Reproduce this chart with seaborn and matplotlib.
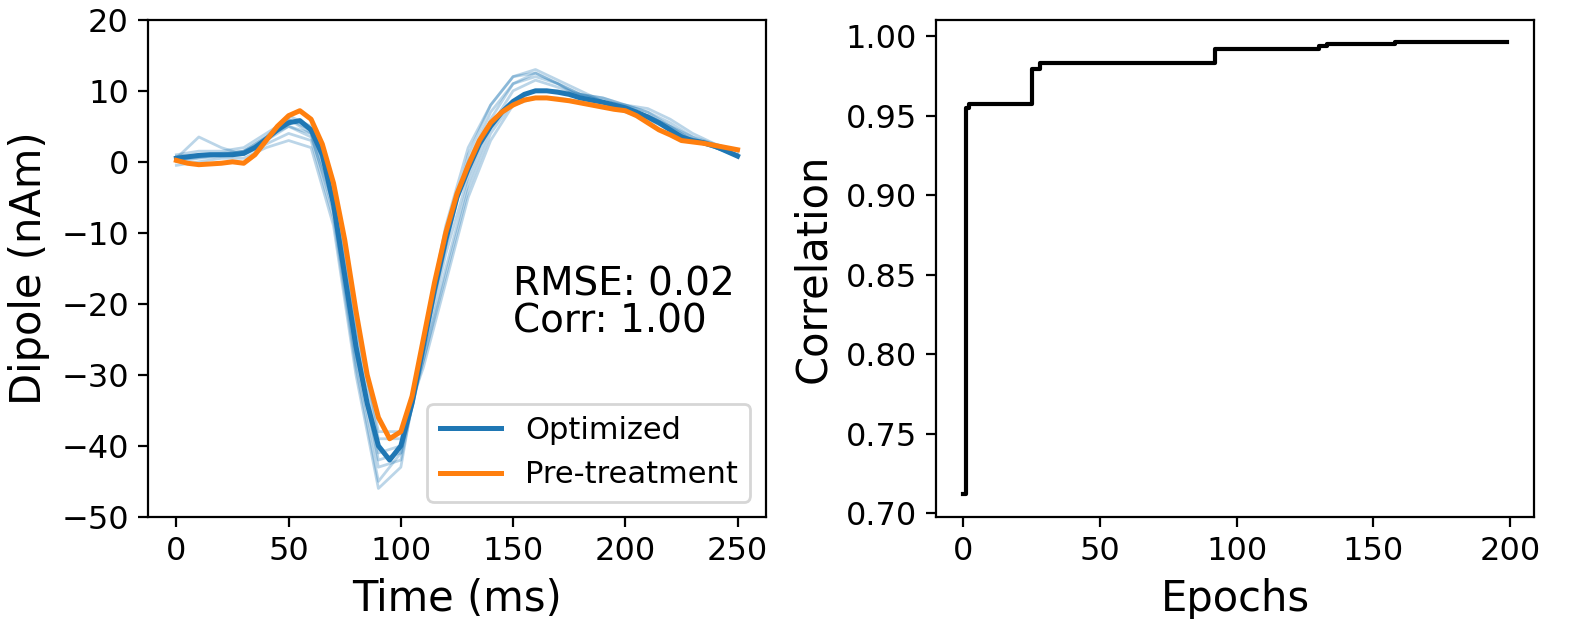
import numpy as np
import pandas as pd
import matplotlib
matplotlib.use('Agg')
import matplotlib.pyplot as plt
import seaborn as sns

# left panel: dipole traces, every 5 ms
time_ms = list(range(0, 255, 5))
optimized = [0.5, 0.7, 0.9, 1.0, 1.0, 1.0, 1.2, 2.0, 3.2, 4.5, 5.5, 5.8, 4.5, 1.0, -6, -16, -26, -34, -40, -42,
             -40, -34, -26, -18, -11, -5, -1, 2.5, 5, 7, 8.5, 9.5, 10, 10, 9.8, 9.5, 9, 8.7, 8.4, 8, 7.6, 7,
             6.3, 5.5, 4.5, 3.5, 3, 2.7, 2.2, 1.5, 0.8]
pretreat = [0.2, -0.2, -0.4, -0.3, -0.2, 0, -0.2, 1, 3, 5, 6.5, 7.2, 6, 2.5, -3, -11, -21, -30, -36, -39,
            -38, -33, -25, -17, -10, -4.5, -0.5, 3, 5.5, 7, 8, 8.7, 9, 9, 8.8, 8.6, 8.3, 8, 7.7, 7.4, 7.2, 6.5,
            5.5, 4.5, 3.8, 3, 2.8, 2.6, 2.3, 2, 1.7]

# individual trials, every 10 ms
trial_time = list(range(0, 260, 10))
trials = [
    [0.5, 3.5, 2, 1, 3, 6, 4, -7, -28, -43, -42, -27, -13, -2, 6, 11, 12.5, 11, 9.5, 9, 8, 7, 5, 3, 2, 1],
    [-0.5, 0, 0.5, 0.5, 2, 3, 2, -9, -30, -46, -43, -25, -9, 2, 8, 12, 13, 11.5, 10, 8.5, 7.5, 6.5, 5, 3.5, 2, 0.8],
    [0.8, 1, 1.2, 1.5, 3.5, 5, 4, -5, -26, -42, -41, -28, -15, -3, 5, 10, 11.5, 10.5, 9.5, 8.5, 7, 6, 4.5, 3, 2, 1],
    [0, 0.5, 0.8, 1, 2.5, 4, 3, -8, -29, -45, -41, -25, -10, 0, 7, 11, 12, 11, 9, 8, 7.5, 6.5, 5, 3, 2, 1],
    [1, 1.5, 1.5, 2, 4, 6, 4.5, -4, -24, -39, -39, -28, -16, -4, 4, 8.5, 10, 10, 9.5, 9, 8, 7, 5.5, 3.5, 2.5, 1.5],
    [0.3, 0.6, 1, 1.5, 3.5, 6.5, 5, -3, -23, -38, -38, -29, -17, -5, 3, 8, 9, 9, 8.5, 8.5, 8, 7.5, 6, 4, 2.5, 1.5],
    [0.5, 1, 1, 1.5, 3, 5, 3.5, -6, -27, -41, -40, -26, -12, 1, 8, 12, 12.5, 11, 9.5, 8.5, 7.5, 6.5, 4.5, 3, 2, 1],
]

# right panel: correlation per epoch (change points of the best-so-far curve)
epoch_steps = [0, 1, 2, 25, 27, 28, 92, 130, 133, 158, 199]
corr_steps = [0.712, 0.955, 0.957, 0.979, 0.979, 0.983, 0.992, 0.994, 0.995, 0.996, 0.996]

plt.rcParams['font.family'] = ['DejaVu Sans']
fig, (ax1, ax2) = plt.subplots(1, 2, figsize=(7.975, 3.095), dpi=200)

for tr in trials:
    sns.lineplot(x=trial_time, y=tr, ax=ax1, color='#1f77b4', alpha=0.3, lw=1.0)
df = pd.DataFrame({'t': time_ms * 2, 'v': optimized + pretreat,
                   'kind': ['Optimized'] * len(time_ms) + ['Pre-treatment'] * len(time_ms)})
sns.lineplot(data=df, x='t', y='v', hue='kind', palette=['#1f77b4', '#ff7f0e'], lw=1.8, ax=ax1)
ax1.set_ylim(-50, 20)
ax1.set_yticks(range(-50, 21, 10))
ax1.set_xticks([0, 50, 100, 150, 200, 250])
ax1.set_xlabel('Time (ms)', fontsize=15)
ax1.set_ylabel('Dipole (nAm)', fontsize=15)
ax1.text(150, -24, 'RMSE: 0.02\nCorr: 1.00', fontsize=14, linespacing=0.95)
ax1.legend(title=None, loc='lower right', fontsize=11)

sns.lineplot(x=epoch_steps, y=corr_steps, ax=ax2, color='black', lw=1.5, drawstyle='steps-post')
ax2.set_xticks([0, 50, 100, 150, 200])
ax2.set_yticks(np.arange(0.70, 1.001, 0.05))
ax2.set_xlabel('Epochs', fontsize=15)
ax2.set_ylabel('Correlation', fontsize=15)

for ax in (ax1, ax2):
    ax.tick_params(labelsize=11.5)

ax1.set_position([0.093, 0.165, 0.387, 0.803])
ax2.set_position([0.587, 0.165, 0.375, 0.803])
plt.savefig('out.png', dpi=200)
